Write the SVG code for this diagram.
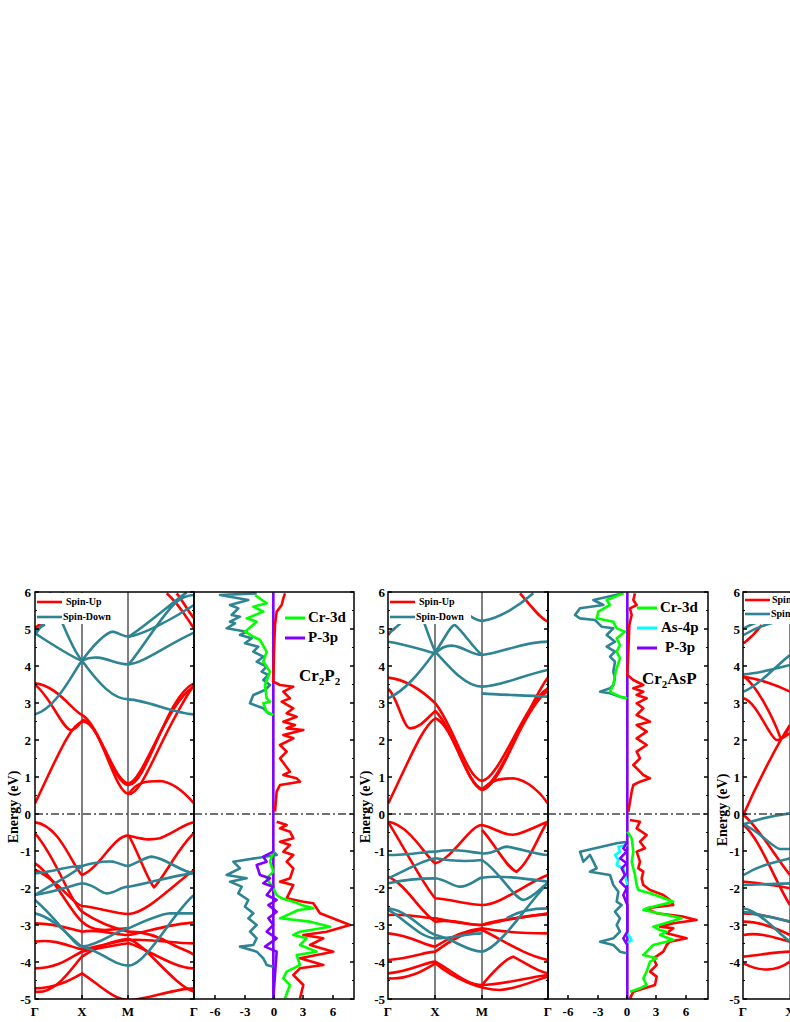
<svg xmlns="http://www.w3.org/2000/svg" width="790" height="1022" viewBox="0 0 790 1022">
<style>
text{font-family:"Liberation Serif","Times New Roman",serif;font-weight:bold;fill:#000}
.up{fill:none;stroke:#f00;stroke-width:2.6;stroke-linejoin:round;vector-effect:non-scaling-stroke}
.dn{fill:none;stroke:#2e8493;stroke-width:2.6;stroke-linejoin:round;vector-effect:non-scaling-stroke}
.cr{fill:none;stroke:#0f0;stroke-width:2.6;stroke-linejoin:round;vector-effect:non-scaling-stroke}
.as{fill:none;stroke:#0ff;stroke-width:2.6;stroke-linejoin:round;vector-effect:non-scaling-stroke}
.pp{fill:none;stroke:#8000ff;stroke-width:2.6;stroke-linejoin:round;vector-effect:non-scaling-stroke}
.frame{fill:none;stroke:#000;stroke-width:1.5}
.sym{stroke:#555;stroke-width:1.5}
.ef{stroke:#444;stroke-width:1.5;stroke-dasharray:8 3 2 3}
.tk{stroke:#000;stroke-width:4;stroke-dasharray:1.5 35.5}
.tm{stroke:#000;stroke-width:2;stroke-dasharray:1.2 35.8}
.yl{font-size:13px;text-anchor:end}
.xl{font-size:13px;text-anchor:middle}
.lg{font-size:10px}
.lg2{font-size:15px}
</style>
<defs>
<clipPath id="c1"><rect x="35" y="592" width="159" height="407"/></clipPath>
<clipPath id="c2"><rect x="194" y="592" width="160" height="407"/></clipPath>
<clipPath id="c3"><rect x="388" y="592" width="160" height="407"/></clipPath>
<clipPath id="c4"><rect x="548" y="592" width="160" height="407"/></clipPath>
<clipPath id="c5"><rect x="743" y="592" width="60" height="407"/></clipPath>
</defs>

<g id="panel1-bands">
<line class="sym" x1="82" y1="592" x2="82" y2="999"/>
<line class="sym" x1="128" y1="592" x2="128" y2="999"/>
<g clip-path="url(#c1)"><g transform="translate(0,585) scale(0.33333)">
<path class="up" d="M105,655 C170,520 210,420 246,410 C300,400 340,620 386,627 C430,630 480,450 582,300"/>
<path class="up" d="M105,295 C170,300 220,380 246,390 C300,420 340,600 386,600 C440,600 500,330 582,295"/>
<path class="up" d="M105,300 C150,330 190,440 215,435 C235,430 240,410 250,405 C300,420 340,590 386,595 C430,590 500,350 582,305"/>
<path class="up" d="M386,627 C410,590 440,588 480,588 C520,590 560,630 582,655"/>
<path class="up" d="M105,130 C110,125 115,120 125,115 M500,25 C540,60 560,100 582,130 M530,25 C550,50 565,80 582,100"/>
<path class="up" d="M105,712 C180,720 220,850 246,870 C300,850 340,750 386,752 C420,760 440,768 480,760 C530,740 560,712 582,712"/>
<path class="up" d="M105,745 C170,820 210,950 246,980 C290,1010 340,1030 386,1040 C430,1040 470,1050 520,1080 C550,1095 570,1100 582,1110"/>
<path class="up" d="M386,752 C410,790 440,880 462,907 C490,880 540,780 582,745"/>
<path class="up" d="M105,855 C170,880 220,960 246,963 C300,968 340,985 386,987 C440,985 520,900 582,855"/>
<path class="up" d="M105,1015 C170,1015 220,1035 246,1040 C300,1030 340,1050 386,1050 C440,1040 520,1015 582,1013"/>
<path class="up" d="M105,1070 C170,1060 220,1090 246,1093 C300,1085 340,1070 386,1065 C440,1060 520,1075 582,1075"/>
<path class="up" d="M105,1150 C180,1150 220,1110 246,1100 C300,1090 340,1080 386,1075 C440,1090 520,1150 582,1150"/>
<path class="up" d="M105,1210 C170,1210 220,1180 246,1165 C300,1200 340,1245 386,1245 C440,1245 520,1210 582,1210"/>
<path class="up" d="M105,1220 C170,1230 220,1140 246,1115 C300,1080 340,1065 386,1062 C440,1080 520,1200 582,1220"/>
<path class="up" d="M105,835 C160,870 210,980 246,1010 C290,1050 340,1030 386,1030"/>
<path class="dn" d="M105,388 C170,370 220,260 246,227 C300,300 340,343 386,343 C440,345 520,385 582,388"/>
<path class="dn" d="M105,145 C160,180 220,220 246,227 C300,200 340,240 386,238 C430,235 500,180 582,143"/>
<path class="dn" d="M105,150 C140,100 170,50 190,22 M150,22 C180,100 220,200 246,227"/>
<path class="dn" d="M246,227 C280,180 320,140 340,140 C360,145 370,155 386,155 C430,150 520,100 582,60"/>
<path class="dn" d="M386,155 C440,120 520,50 560,22 M386,238 C420,200 480,100 520,60 C540,40 560,30 582,30 M105,140 C115,130 125,125 135,118"/>
<path class="dn" d="M105,865 C170,860 210,840 246,843 C290,830 320,828 340,830 C360,835 370,843 386,843 C420,830 440,815 455,815 C500,820 540,860 582,865"/>
<path class="dn" d="M105,930 C170,920 220,900 246,895 C290,900 300,925 320,925 C345,925 360,905 386,905 C450,895 520,870 582,865"/>
<path class="dn" d="M105,930 C150,900 200,880 246,843"/>
<path class="dn" d="M105,945 C170,1000 220,1080 246,1085 C300,1095 340,1142 386,1142 C440,1140 520,980 582,930"/>
<path class="dn" d="M105,985 C170,1000 220,1070 246,1085 C300,1080 340,1040 386,1030 C430,1010 470,990 510,985 L582,985"/>
</g></g>
<line class="ef" x1="35" y1="814" x2="194" y2="814"/>
<rect x="36" y="593" width="82" height="31" fill="#fff"/>
<line x1="37" y1="602" x2="62" y2="602" stroke="#f00" stroke-width="2.6"/>
<text class="lg" x="66" y="605">Spin-Up</text>
<line x1="37" y1="617" x2="62" y2="617" stroke="#2e8493" stroke-width="2.6"/>
<text class="lg" x="63" y="620">Spin-Down</text>
<rect class="frame" x="35" y="592" width="159" height="407"/>
<line class="tk" x1="37" y1="591.25" x2="37" y2="1000"/>
<line class="tm" x1="36" y1="609.9" x2="36" y2="1000"/>
<line class="tk" x1="192" y1="591.25" x2="192" y2="1000"/>
<line class="tm" x1="193" y1="609.9" x2="193" y2="1000"/>
</g>

<g id="panel1-dos">
<g clip-path="url(#c2)"><g transform="translate(0,585) scale(0.33333)">
<line class="pp" x1="820" y1="22" x2="820" y2="1243"/>
<polyline class="dn" points="770,25 660,30 745,45 690,60 715,70 695,90 720,95 690,110 705,115 680,130 740,140 720,150 755,160 735,175 775,185 760,200 790,215 770,230 800,245 785,260 805,270 790,285 810,300 795,315 760,330 750,355 790,370 805,385 820,390"/>
<polyline class="dn" points="820,800 830,810 700,830 720,850 680,870 740,880 690,890 725,905 715,925 745,945 735,965 760,985 745,1000 770,1020 750,1040 770,1060 760,1080 720,1085 770,1100 790,1120 800,1140 820,1145"/>
<polyline class="cr" points="765,30 800,55 760,65 790,80 740,100 770,110 735,140 760,155 780,165 800,200 790,230 810,260 795,300 800,340 810,350 790,355 800,380 820,390"/>
<polyline class="up" points="855,25 850,40 845,60 830,80 825,120 822,200 820,290 840,300 880,305 850,320 870,340 845,350 880,370 860,385 890,395 850,410 885,420 860,430 910,435 850,450 880,460 840,480 860,500 840,520 870,560 850,570 890,580 900,590 840,600 830,620 825,680"/>
<polyline class="up" points="830,710 860,720 840,730 870,740 880,760 840,770 870,780 850,800 880,810 860,830 880,850 870,880 840,890 880,900 870,920 860,940 910,950 940,955 960,985 1050,1020 980,1040 910,1050 970,1060 930,1080 1000,1100 900,1120 970,1140 900,1150 880,1170 910,1200 900,1240"/>
<polyline class="cr" points="820,800 810,830 820,860 800,880 820,910 830,930 845,940 880,950 905,960 940,970 895,975 840,1000 930,1010 990,1025 900,1040 880,1050 920,1060 900,1080 950,1100 890,1110 900,1140 880,1150 860,1160 850,1180 870,1200 855,1240"/>
<polyline class="pp" points="820,800 790,815 800,830 770,840 780,870 810,880 790,895 820,905 800,930 830,945 805,960 830,980 805,1000 820,1020 800,1040 830,1060 795,1085 830,1100 820,1240"/>
</g></g>
<line class="ef" x1="194" y1="814" x2="354" y2="814"/>
<line x1="285" y1="618" x2="305" y2="618" stroke="#0f0" stroke-width="3"/>
<text class="lg2" x="308" y="622">Cr-3d</text>
<line x1="285" y1="638" x2="305" y2="638" stroke="#8000ff" stroke-width="3"/>
<text class="lg2" x="308" y="642">P-3p</text>
<text x="299" y="681" font-size="17">Cr<tspan font-size="11" dy="4">2</tspan><tspan dy="-4">P</tspan><tspan font-size="11" dy="4">2</tspan></text>
<rect class="frame" x="194" y="592" width="160" height="407"/>
<line class="tk" x1="352" y1="591.25" x2="352" y2="1000"/>
<line class="tm" x1="353" y1="609.9" x2="353" y2="1000"/>
<path stroke="#000" stroke-width="1.5" d="M215,999v-4M245,999v-4M274,999v-4M303,999v-4M333,999v-4M82,999v-4M128,999v-4"/>
</g>

<g id="panel2-bands">
<line class="sym" x1="435" y1="592" x2="435" y2="999"/>
<line class="sym" x1="482" y1="592" x2="482" y2="999"/>
<g clip-path="url(#c3)"><g transform="translate(380,585) scale(0.33333)">
<path class="up" d="M25,655 C90,520 130,420 166,400 C220,420 260,600 306,615 C360,610 430,380 503,278"/>
<path class="up" d="M25,278 C90,285 140,330 166,355 C220,420 260,580 306,588 C360,580 430,360 503,310"/>
<path class="up" d="M25,312 C50,330 70,430 90,430 C120,430 140,400 166,378 C220,430 260,600 306,612 C360,600 430,370 503,318"/>
<path class="up" d="M306,615 C330,585 360,580 400,580 C440,585 480,620 503,655"/>
<path class="up" d="M25,150 C30,140 35,135 45,130 M420,25 C460,70 480,100 503,110"/>
<path class="up" d="M25,710 C90,720 140,820 166,835 C220,820 270,720 306,720 C350,730 380,760 420,745 C460,730 490,715 503,710"/>
<path class="up" d="M306,735 C340,770 380,850 410,860 C450,830 480,740 503,710"/>
<path class="up" d="M25,712 C80,800 130,900 166,940 C220,945 270,960 306,960 C360,960 430,900 503,870"/>
<path class="up" d="M25,875 C80,900 120,980 166,1010 C220,1000 260,1020 306,1020 C360,1000 430,1000 503,985"/>
<path class="up" d="M25,990 C90,985 130,1000 166,1000 C220,1010 260,1020 306,1020 C360,1010 430,990 503,988"/>
<path class="up" d="M25,1045 C90,1050 130,1080 166,1085 C220,1050 260,1035 306,1030 C360,1040 430,1045 503,1045"/>
<path class="up" d="M25,1125 C90,1120 140,1100 166,1100 C220,1060 260,1040 306,1035 C360,1060 430,1110 503,1125"/>
<path class="up" d="M25,1165 C90,1160 140,1130 166,1130 C220,1160 260,1200 306,1200 C360,1200 430,1180 503,1170"/>
<path class="up" d="M25,1180 C90,1185 140,1150 166,1135 C220,1180 300,1215 360,1215 C420,1210 480,1180 503,1175"/>
<path class="up" d="M306,1200 C340,1160 380,1120 400,1115 C430,1130 470,1160 503,1165"/>
<path class="dn" d="M25,340 C90,310 140,230 166,200 C220,260 260,305 306,305 C360,305 430,270 503,255"/>
<path class="dn" d="M306,325 C360,330 430,330 503,335"/>
<path class="dn" d="M25,170 C90,180 140,200 166,205 C220,150 260,210 306,210 C360,205 430,170 503,170"/>
<path class="dn" d="M166,200 C190,170 210,120 225,120 C250,140 280,190 306,210 M306,108 C360,100 420,60 460,25 M25,145 C60,120 120,60 140,25 M100,25 C130,100 150,170 166,200 M306,108 C260,100 240,60 230,25"/>
<path class="dn" d="M25,810 C90,810 130,800 166,800 C220,790 260,800 306,805 C340,810 360,785 380,785 C420,790 470,810 503,810"/>
<path class="dn" d="M25,895 C90,880 130,880 166,880 C200,885 220,905 240,905 C270,905 290,880 306,878 C360,870 430,880 503,890"/>
<path class="dn" d="M25,880 C90,850 130,825 166,820 C220,830 260,830 306,825 C360,860 400,940 430,945 C460,940 490,900 503,895"/>
<path class="dn" d="M25,970 C90,980 130,1040 166,1050 C220,1060 260,1100 306,1100 C360,1090 440,960 503,895"/>
<path class="dn" d="M25,975 C60,990 120,1060 166,1060 C220,1060 260,1045 306,1045 M380,1000 C420,975 460,970 503,970"/>
</g></g>
<line class="ef" x1="388" y1="814" x2="548" y2="814"/>
<rect x="389" y="593" width="82" height="31" fill="#fff"/>
<line x1="390" y1="602" x2="415" y2="602" stroke="#f00" stroke-width="2.6"/>
<text class="lg" x="419" y="605">Spin-Up</text>
<line x1="390" y1="617" x2="415" y2="617" stroke="#2e8493" stroke-width="2.6"/>
<text class="lg" x="416" y="620">Spin-Down</text>
<rect class="frame" x="388" y="592" width="160" height="407"/>
<line class="tk" x1="390" y1="591.25" x2="390" y2="1000"/>
<line class="tm" x1="389" y1="609.9" x2="389" y2="1000"/>
<line class="tk" x1="546" y1="591.25" x2="546" y2="1000"/>
<line class="tm" x1="547" y1="609.9" x2="547" y2="1000"/>
</g>

<g id="panel2-dos">
<g clip-path="url(#c4)"><g transform="translate(380,585) scale(0.33333)">
<line class="pp" x1="742" y1="22" x2="742" y2="1243"/>
<polyline class="dn" points="730,25 640,45 670,60 600,70 585,90 600,100 645,105 665,125 700,130 680,150 705,170 680,185 705,200 690,215 705,230 700,260 705,280 700,300 690,310 660,320 690,325 720,335 740,340"/>
<polyline class="dn" points="742,770 710,775 600,800 610,830 630,810 640,830 650,850 630,860 690,870 700,900 715,920 710,950 725,960 705,980 720,1000 710,1020 720,1040 700,1060 660,1070 700,1080 720,1100 740,1105"/>
<polyline class="cr" points="730,25 680,45 690,60 655,80 650,100 700,110 710,130 735,140 710,160 720,180 710,200 720,220 710,250 705,270 700,300 690,320 720,335 742,340"/>
<polyline class="up" points="765,25 760,45 770,60 750,70 755,90 748,120 745,200 742,270 760,285 790,300 760,310 790,320 770,330 800,340 770,355 790,370 770,390 810,410 770,420 800,440 770,460 800,480 770,500 780,520 760,540 780,560 790,570 810,580 780,590 760,600 755,620 745,680"/>
<polyline class="up" points="750,705 780,710 770,730 800,750 780,770 795,790 770,800 780,830 775,850 790,860 785,880 790,900 810,915 850,930 870,945 880,960 800,970 830,985 910,995 950,1005 880,1015 840,1025 880,1030 860,1045 920,1060 870,1070 860,1080 850,1100 820,1120 830,1140 810,1160 830,1175 825,1200 760,1220 750,1240"/>
<polyline class="cr" points="742,740 755,760 760,800 755,830 765,870 770,900 775,915 810,925 840,935 880,950 800,970 790,975 860,990 905,1000 870,1010 820,1025 840,1035 860,1040 840,1050 880,1065 820,1080 800,1100 790,1110 830,1120 810,1130 800,1160 790,1180 800,1200 780,1210 750,1220"/>
<polyline class="as" points="742,780 715,785 720,800 705,810 715,825 710,840 730,850 735,870 742,900"/>
<polyline class="as" points="742,1040 745,1050 755,1065 742,1075"/>
<polyline class="pp" points="742,770 730,790 740,800 720,820 740,835 725,850 735,870 720,890 740,910 730,930 742,960 742,1040 730,1060 742,1080"/>
</g></g>
<line class="ef" x1="548" y1="814" x2="708" y2="814"/>
<line x1="637" y1="608" x2="657" y2="608" stroke="#0f0" stroke-width="3"/>
<text class="lg2" x="660" y="612">Cr-3d</text>
<line x1="637" y1="628" x2="657" y2="628" stroke="#0ff" stroke-width="3"/>
<text class="lg2" x="661" y="632">As-4p</text>
<line x1="637" y1="648" x2="657" y2="648" stroke="#8000ff" stroke-width="3"/>
<text class="lg2" x="665" y="652">P-3p</text>
<text x="642" y="684" font-size="17">Cr<tspan font-size="11" dy="4">2</tspan><tspan dy="-4">AsP</tspan></text>
<rect class="frame" x="548" y="592" width="160" height="407"/>
<line class="tk" x1="706" y1="591.25" x2="706" y2="1000"/>
<line class="tm" x1="707" y1="609.9" x2="707" y2="1000"/>
<path stroke="#000" stroke-width="1.5" d="M568,999v-4M598,999v-4M627,999v-4M656,999v-4M686,999v-4M435,999v-4M482,999v-4"/>
</g>

<g id="panel3-bands">
<g clip-path="url(#c5)"><g transform="translate(700,585) scale(0.33333)">
<path class="up" d="M131,688 C170,600 230,480 270,420 M131,275 C170,280 230,300 270,320 M131,275 C170,300 220,400 240,455 C250,470 260,440 270,420 M131,340 C170,350 210,460 230,465 C245,465 260,450 270,445 M131,175 C150,160 170,140 185,120"/>
<path class="up" d="M131,720 C180,760 230,900 270,960 M131,690 C170,720 230,820 270,870 M131,890 C180,895 230,900 270,910 M131,985 C180,985 230,1000 270,1010 M131,1010 C180,1010 230,1030 270,1050 M131,1050 C180,1040 230,1060 270,1070 M131,1115 C180,1110 230,1100 270,1100 M131,1135 C180,1160 230,1160 270,1130"/>
<path class="dn" d="M131,320 C180,300 230,240 270,210 M131,268 C180,265 230,250 270,240 M131,150 C180,120 230,110 270,100 M131,130 C170,110 200,100 230,100"/>
<path class="dn" d="M131,718 C180,700 230,690 270,685 M131,718 C180,740 220,790 240,792 L270,792 M131,870 C180,840 230,830 270,820 M131,900 L270,895 M131,970 C180,980 230,1040 270,1070 M131,980 C180,990 230,1000 270,1010"/>
</g></g>
<line class="ef" x1="743" y1="814" x2="790" y2="814"/>
<line class="sym" x1="790" y1="592" x2="790" y2="999"/>
<rect x="744" y="593" width="50" height="31" fill="#fff"/>
<line x1="745" y1="600" x2="770" y2="600" stroke="#f00" stroke-width="2.6"/>
<text class="lg" x="772" y="603">Spin-Up</text>
<line x1="745" y1="614" x2="770" y2="614" stroke="#2e8493" stroke-width="2.6"/>
<text class="lg" x="771" y="617">Spin-Down</text>
<path class="frame" d="M800,592H743V999H800"/>
<line class="tk" x1="745" y1="591.25" x2="745" y2="1000"/>
<line class="tm" x1="744" y1="609.9" x2="744" y2="1000"/>
</g>

<g id="axis-labels">
<g class="yl">
<text x="31" y="597">6</text><text x="31" y="634">5</text><text x="31" y="671">4</text><text x="31" y="708">3</text><text x="31" y="745">2</text><text x="31" y="782">1</text><text x="31" y="819">0</text><text x="31" y="856">-1</text><text x="31" y="893">-2</text><text x="31" y="930">-3</text><text x="31" y="967">-4</text><text x="31" y="1004">-5</text>
<text x="385" y="597">6</text><text x="385" y="634">5</text><text x="385" y="671">4</text><text x="385" y="708">3</text><text x="385" y="745">2</text><text x="385" y="782">1</text><text x="385" y="819">0</text><text x="385" y="856">-1</text><text x="385" y="893">-2</text><text x="385" y="930">-3</text><text x="385" y="967">-4</text><text x="385" y="1004">-5</text>
<text x="740" y="597">6</text><text x="740" y="634">5</text><text x="740" y="671">4</text><text x="740" y="708">3</text><text x="740" y="745">2</text><text x="740" y="782">1</text><text x="740" y="819">0</text><text x="740" y="856">-1</text><text x="740" y="893">-2</text><text x="740" y="930">-3</text><text x="740" y="967">-4</text><text x="740" y="1004">-5</text>
</g>
<text font-size="14" text-anchor="middle" transform="translate(18,807) rotate(-90)">Energy (eV)</text>
<text font-size="14" text-anchor="middle" transform="translate(370,807) rotate(-90)">Energy (eV)</text>
<text font-size="14" text-anchor="middle" transform="translate(727,810) rotate(-90)">Energy (eV)</text>
<g class="xl">
<text x="35" y="1016">Γ</text><text x="82" y="1016">X</text><text x="128" y="1016">M</text><text x="194" y="1016">Γ</text>
<text x="215" y="1016">-6</text><text x="245" y="1016">-3</text><text x="274" y="1016">0</text><text x="303" y="1016">3</text><text x="333" y="1016">6</text>
<text x="388" y="1016">Γ</text><text x="435" y="1016">X</text><text x="482" y="1016">M</text><text x="548" y="1016">Γ</text>
<text x="568" y="1016">-6</text><text x="598" y="1016">-3</text><text x="627" y="1016">0</text><text x="656" y="1016">3</text><text x="686" y="1016">6</text>
<text x="743" y="1016">Γ</text><text x="790" y="1016">X</text>
</g>
</g>
</svg>
